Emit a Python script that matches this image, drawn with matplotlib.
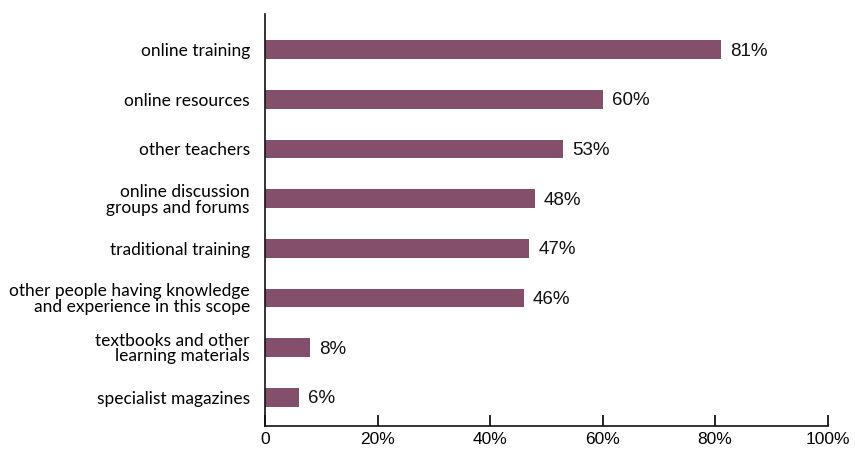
import matplotlib
matplotlib.use('Agg')
import matplotlib.pyplot as plt

categories = [
    'online training',
    'online resources',
    'other teachers',
    'online discussion\ngroups and forums',
    'traditional training',
    'other people having knowledge\nand experience in this scope',
    'textbooks and other\nlearning materials',
    'specialist magazines',
]
values = [81, 60, 53, 48, 47, 46, 8, 6]
xticks = [0, 20, 40, 60, 80, 100]
xtick_labels = ['0', '20%', '40%', '60%', '80%', '100%']

plt.rcParams['font.family'] = ['Lato', 'DejaVu Sans']
num_font = ['Liberation Sans', 'DejaVu Sans']

fig = plt.figure(figsize=(8.55, 4.49), dpi=100)
ax = fig.add_axes([0.31, 0.051, 0.658, 0.918])

y = range(len(categories))
ax.barh(y, values, height=0.38, color='#844f6a')
for yi, v in zip(y, values):
    ax.text(v + 1.6, yi + 0.03, f'{v}%', va='center', ha='left', fontsize=13.5,
            color='#111111', family=num_font)

ax.set_ylim(7.58, -0.72)
ax.set_xlim(0, 100)
ax.set_yticks(list(y))
ax.set_yticklabels(categories, fontsize=12.5, linespacing=0.95, ha='right')
ax.set_xticks(xticks)
ax.set_xticklabels(xtick_labels, fontsize=12.5, family=num_font)
ax.tick_params(axis='y', length=0, pad=11)
ax.tick_params(axis='x', direction='in', length=8, width=1.2, pad=4)

for side in ['top', 'right']:
    ax.spines[side].set_visible(False)
for side in ['left', 'bottom']:
    ax.spines[side].set_linewidth(1.2)
    ax.spines[side].set_color('#111111')

fig.savefig('out.png', dpi=100)
